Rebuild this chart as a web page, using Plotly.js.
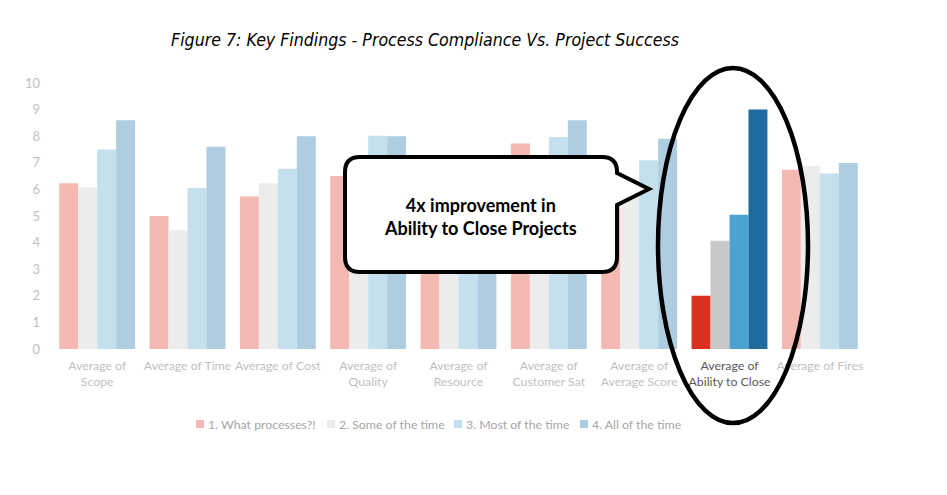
<!DOCTYPE html>
<html>
<head>
<meta charset="utf-8">
<script src="https://cdn.plot.ly/plotly-3.0.1.min.js"></script>
<style>html,body{margin:0;padding:0;background:#fff;}#chart{width:947px;height:495px;}</style>
</head>
<body>
<div id="chart"></div>
<script>
// ---- data ----
const categories = [
  "Average of<br>Scope", "Average of Time", "Average of Cost", "Average of<br>Quality",
  "Average of<br>Resource", "Average of<br>Customer Sat", "Average of<br>Average Score",
  "Average of<br>Ability to Close", "Average of Fires"
];
const seriesNames = ["1. What processes?!", "2. Some of the time", "3. Most of the time", "4. All of the time"];
const whatProcesses = [6.23, 5.0, 5.73, 6.5, 5.3, 7.73, 6.0, 2.0, 6.74];
const someOfTheTime = [6.08, 4.46, 6.23, 6.8, 5.7, 6.9, 6.2, 4.07, 6.88];
const mostOfTheTime = [7.5, 6.05, 6.78, 8.02, 6.4, 7.97, 7.1, 5.05, 6.6];
const allOfTheTime  = [8.6, 7.6, 8.0, 8.0, 6.9, 8.6, 7.9, 9.0, 6.99];
const yTicks = [0, 1, 2, 3, 4, 5, 6, 7, 8, 9, 10];
const highlightIndex = 7;

// ---- styles ----
const baseColors = ["#f4b9b2", "#ececec", "#c3e0ec", "#afcde0"];
const highlightColors = ["#d9301f", "#c8c8c8", "#4ba3d3", "#1f6b9e"];
const seriesValues = [whatProcesses, someOfTheTime, mostOfTheTime, allOfTheTime];

const W = 947, H = 495;
const L = 52, R = 82, T = 83, B = 146;
const pw = W - L - R, ph = H - T - B;
const X = px => (px - L) / pw;
const Y = py => (H - B - py) / ph;

const traces = seriesValues.map((vals, s) => ({
  type: "bar",
  name: seriesNames[s],
  x: categories,
  y: vals,
  marker: {
    color: vals.map((v, i) => i === highlightIndex ? highlightColors[s] : baseColors[s]),
    line: {width: 0}
  },
  showlegend: false,
  hoverinfo: "skip"
}));

// callout path (pixel coordinates of the speech bubble, converted to paper)
function P(x, y) { return X(x).toFixed(4) + "," + Y(y).toFixed(4); }
const bl = 345, br = 617, bt = 157, bb = 272, rr = 15;
const calloutPath =
  "M" + P(bl + rr, bt) +
  " L" + P(br - rr, bt) +
  " Q" + P(br, bt) + " " + P(br, bt + rr) +
  " L" + P(br, 173) +
  " L" + P(649, 189) +
  " L" + P(br, 205) +
  " L" + P(br, bb - rr) +
  " Q" + P(br, bb) + " " + P(br - rr, bb) +
  " L" + P(bl + rr, bb) +
  " Q" + P(bl, bb) + " " + P(bl, bb - rr) +
  " L" + P(bl, bt + rr) +
  " Q" + P(bl, bt) + " " + P(bl + rr, bt) + " Z";

const tickLabelColors = categories.map((c, i) => i === highlightIndex ? "#595959" : "#bfbfbf");

// legend drawn as small squares + text below the plot
const legendLeft = [196, 327, 454, 580];
const legendY = 424, sq = 8;
const legendShapes = seriesNames.map((n, s) => ({
  type: "rect", xref: "paper", yref: "paper",
  x0: X(legendLeft[s]), x1: X(legendLeft[s] + sq),
  y0: Y(legendY + sq / 2), y1: Y(legendY - sq / 2),
  fillcolor: baseColors[s], line: {width: 0}, layer: "above"
}));
const legendTexts = seriesNames.map((n, s) => ({
  xref: "paper", yref: "paper", x: X(legendLeft[s] + sq + 2), y: Y(legendY),
  xanchor: "left", yanchor: "middle", showarrow: false, text: n,
  font: {size: 12.3, color: "#a6a6a6"}
}));

const layout = {
  width: W, height: H,
  margin: {l: L, r: R, t: T, b: B},
  paper_bgcolor: "#ffffff",
  plot_bgcolor: "#ffffff",
  barmode: "group",
  bargap: 0.16,
  bargroupgap: 0,
  showlegend: false,
  font: {family: "Lato, 'Open Sans', sans-serif", size: 13, color: "#bfbfbf"},
  title: {
    text: "<i>Figure 7: Key Findings - Process Compliance Vs. Project Success</i>",
    font: {family: "'DejaVu Sans Condensed', 'DejaVu Sans', sans-serif", size: 17.6, color: "#000000"},
    x: 425 / W, xref: "container", xanchor: "center",
    y: 1 - 40 / H, yref: "container", yanchor: "middle"
  },
  xaxis: {
    type: "category",
    showgrid: false, showline: false, zeroline: false,
    ticks: "",
    tickangle: 0,
    tickfont: {size: 12.3, color: "#bfbfbf"},
    ticklabelstandoff: 8,
    fixedrange: true
  },
  yaxis: {
    range: [0, 10],
    tickvals: yTicks,
    showgrid: false, showline: false, zeroline: false,
    ticks: "",
    tickfont: {size: 13, color: "#bfbfbf"},
    ticklabelstandoff: 11,
    fixedrange: true
  },
  shapes: [
    {type: "path", xref: "paper", yref: "paper", path: calloutPath,
     fillcolor: "#ffffff", line: {color: "#000000", width: 4}, layer: "above"},
    {type: "circle", xref: "paper", yref: "paper",
     x0: X(658), x1: X(808), y0: Y(423), y1: Y(68),
     fillcolor: "rgba(0,0,0,0)", line: {color: "#000000", width: 4.5}, layer: "above"}
  ].concat(legendShapes),
  annotations: [
    {xref: "paper", yref: "paper", x: X(481), y: Y(216), xanchor: "center", yanchor: "middle",
     text: "<b>4x improvement in<br>Ability to Close Projects</b>", showarrow: false,
     font: {family: "Lato, sans-serif", size: 18, color: "#000000"}}
  ].concat(legendTexts)
};

Plotly.newPlot("chart", traces, layout, {displayModeBar: false, staticPlot: true}).then(() => {
  // colour the highlighted category label darker
  const labels = document.querySelectorAll(".xtick text");
  labels.forEach((t, i) => { t.style.fill = tickLabelColors[i]; });
});
</script>
</body>
</html>
